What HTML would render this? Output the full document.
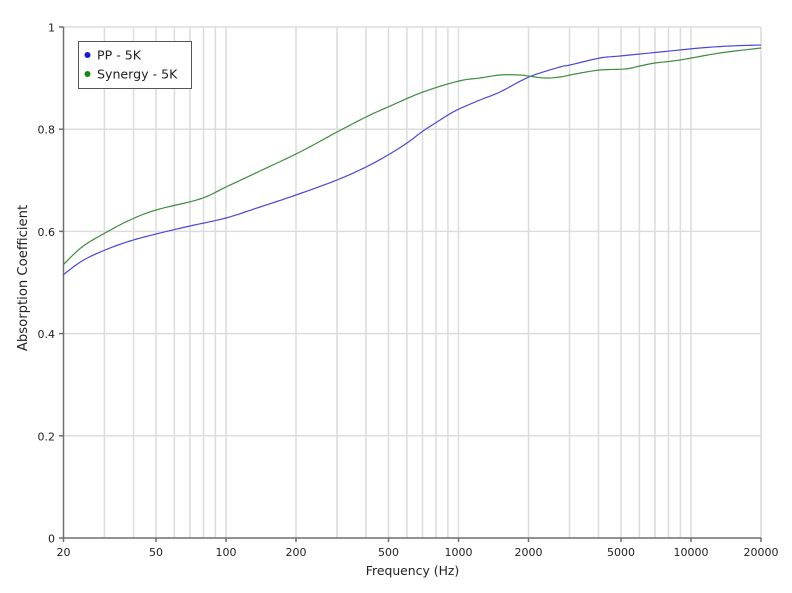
<!DOCTYPE html>
<html>
<head>
<meta charset="utf-8">
<style>
html,body{margin:0;padding:0;background:#fff;}
svg{display:block;}
text{font-family:"DejaVu Sans","Liberation Sans",sans-serif;font-size:11px;fill:#222;}
</style>
</head>
<body>
<svg width="792" height="593" viewBox="0 0 792 593" xmlns="http://www.w3.org/2000/svg">
<rect width="792" height="593" fill="#fff"/>
<g stroke="#dcdcdc" stroke-width="1.5">
<line x1="104.4" y1="27" x2="104.4" y2="538"/>
<line x1="133.5" y1="27" x2="133.5" y2="538"/>
<line x1="156" y1="27" x2="156" y2="538"/>
<line x1="174.4" y1="27" x2="174.4" y2="538"/>
<line x1="190" y1="27" x2="190" y2="538"/>
<line x1="203.5" y1="27" x2="203.5" y2="538"/>
<line x1="215.4" y1="27" x2="215.4" y2="538"/>
<line x1="226" y1="27" x2="226" y2="538"/>
<line x1="296" y1="27" x2="296" y2="538"/>
<line x1="337" y1="27" x2="337" y2="538"/>
<line x1="366" y1="27" x2="366" y2="538"/>
<line x1="388.5" y1="27" x2="388.5" y2="538"/>
<line x1="406.9" y1="27" x2="406.9" y2="538"/>
<line x1="422.5" y1="27" x2="422.5" y2="538"/>
<line x1="436" y1="27" x2="436" y2="538"/>
<line x1="447.9" y1="27" x2="447.9" y2="538"/>
<line x1="458.5" y1="27" x2="458.5" y2="538"/>
<line x1="528.5" y1="27" x2="528.5" y2="538"/>
<line x1="569.5" y1="27" x2="569.5" y2="538"/>
<line x1="598.5" y1="27" x2="598.5" y2="538"/>
<line x1="621" y1="27" x2="621" y2="538"/>
<line x1="639.4" y1="27" x2="639.4" y2="538"/>
<line x1="655" y1="27" x2="655" y2="538"/>
<line x1="668.5" y1="27" x2="668.5" y2="538"/>
<line x1="680.4" y1="27" x2="680.4" y2="538"/>
<line x1="691" y1="27" x2="691" y2="538"/>
<line x1="761" y1="27" x2="761" y2="538"/>
</g>
<g stroke="#dcdcdc" stroke-width="1.5">
<line x1="63.5" y1="27" x2="761" y2="27"/>
<line x1="63.5" y1="129.2" x2="761" y2="129.2"/>
<line x1="63.5" y1="231.4" x2="761" y2="231.4"/>
<line x1="63.5" y1="333.6" x2="761" y2="333.6"/>
<line x1="63.5" y1="435.8" x2="761" y2="435.8"/>
</g>
<g stroke="#6e6e6e" stroke-width="1.5">
<line x1="63.5" y1="27" x2="63.5" y2="538.5"/>
<line x1="63" y1="538" x2="761.5" y2="538"/>
<line x1="59" y1="27" x2="63.5" y2="27"/>
<line x1="59" y1="129.2" x2="63.5" y2="129.2"/>
<line x1="59" y1="231.4" x2="63.5" y2="231.4"/>
<line x1="59" y1="333.6" x2="63.5" y2="333.6"/>
<line x1="59" y1="435.8" x2="63.5" y2="435.8"/>
<line x1="59" y1="538" x2="63.5" y2="538"/>
<line x1="63.5" y1="538" x2="63.5" y2="542"/>
<line x1="156" y1="538" x2="156" y2="542"/>
<line x1="226" y1="538" x2="226" y2="542"/>
<line x1="296" y1="538" x2="296" y2="542"/>
<line x1="388.5" y1="538" x2="388.5" y2="542"/>
<line x1="458.5" y1="538" x2="458.5" y2="542"/>
<line x1="528.5" y1="538" x2="528.5" y2="542"/>
<line x1="621" y1="538" x2="621" y2="542"/>
<line x1="691" y1="538" x2="691" y2="542"/>
<line x1="761" y1="538" x2="761" y2="542"/>
</g>
<g text-anchor="end" style="font-size:12px">
<text x="55" y="31.5">1</text>
<text x="55" y="133.7">0.8</text>
<text x="55" y="235.9">0.6</text>
<text x="55" y="338.1">0.4</text>
<text x="55" y="440.3">0.2</text>
<text x="55" y="542.5">0</text>
</g>
<g text-anchor="middle" style="font-size:11.3px">
<text x="63.5" y="556">20</text>
<text x="156" y="556">50</text>
<text x="226" y="556">100</text>
<text x="296" y="556">200</text>
<text x="388.5" y="556">500</text>
<text x="458.5" y="556">1000</text>
<text x="528.5" y="556">2000</text>
<text x="621" y="556">5000</text>
<text x="691" y="556">10000</text>
<text x="761" y="556">20000</text>
</g>
<text x="412.5" y="575" text-anchor="middle" style="font-size:12.4px">Frequency (Hz)</text>
<text x="0" y="0" text-anchor="middle" style="font-size:13.2px" transform="translate(27,278) rotate(-90)">Absorption Coefficient</text>
<polyline id="s1" fill="none" stroke="#4848d8" stroke-width="1.2" points="63,275 82,261 105,250 130,241 156,234 190,226 226,218 260,207 296,195 337,180 366,167 388,155 407,143 423,131 437,122 448,115 459,109 480,100 500,92 529,77 560,67 570,65 600,58 620,56 660,52 700,48 730,46 761,45"/>
<polyline id="s2" fill="none" stroke="#3c8c3c" stroke-width="1.2" points="63,265 82,247 105,233 130,220 156,210 200,199 226,187 260,171 300,152 337,132 366,117 388,107 423,92 459,81 480,78 500,75 520,75 528,76 545,78 560,77 575,74 600,70 625,69 640,66 655,63 680,60 720,53 761,48"/>
<rect x="78.5" y="41.5" width="113" height="47" fill="#fff" stroke="#555" stroke-width="1"/>
<circle cx="87.5" cy="55" r="3" fill="#1515e0"/>
<circle cx="87.5" cy="74" r="3" fill="#118811"/>
<text x="97" y="59.5" style="font-size:12.6px">PP - 5K</text>
<text x="97" y="78.5" style="font-size:12.6px">Synergy - 5K</text>
</svg>
<script>
(function(){
  ['s1','s2'].forEach(function(id){
    var el=document.getElementById(id);
    var pts=el.getAttribute('points').trim().split(/\s+/).map(function(p){var a=p.split(',');return [+a[0],+a[1]];});
    var out=[];
    for(var i=0;i<pts.length-1;i++){
      var p0=pts[Math.max(0,i-1)],p1=pts[i],p2=pts[i+1],p3=pts[Math.min(pts.length-1,i+2)];
      for(var k=0;k<8;k++){
        var t=k/8,t2=t*t,t3=t2*t;
        var x=0.5*((2*p1[0])+(-p0[0]+p2[0])*t+(2*p0[0]-5*p1[0]+4*p2[0]-p3[0])*t2+(-p0[0]+3*p1[0]-3*p2[0]+p3[0])*t3);
        var y=0.5*((2*p1[1])+(-p0[1]+p2[1])*t+(2*p0[1]-5*p1[1]+4*p2[1]-p3[1])*t2+(-p0[1]+3*p1[1]-3*p2[1]+p3[1])*t3);
        out.push(x.toFixed(2)+','+y.toFixed(2));
      }
    }
    out.push(pts[pts.length-1].join(','));
    el.setAttribute('points',out.join(' '));
  });
})();
</script>
</body>
</html>
